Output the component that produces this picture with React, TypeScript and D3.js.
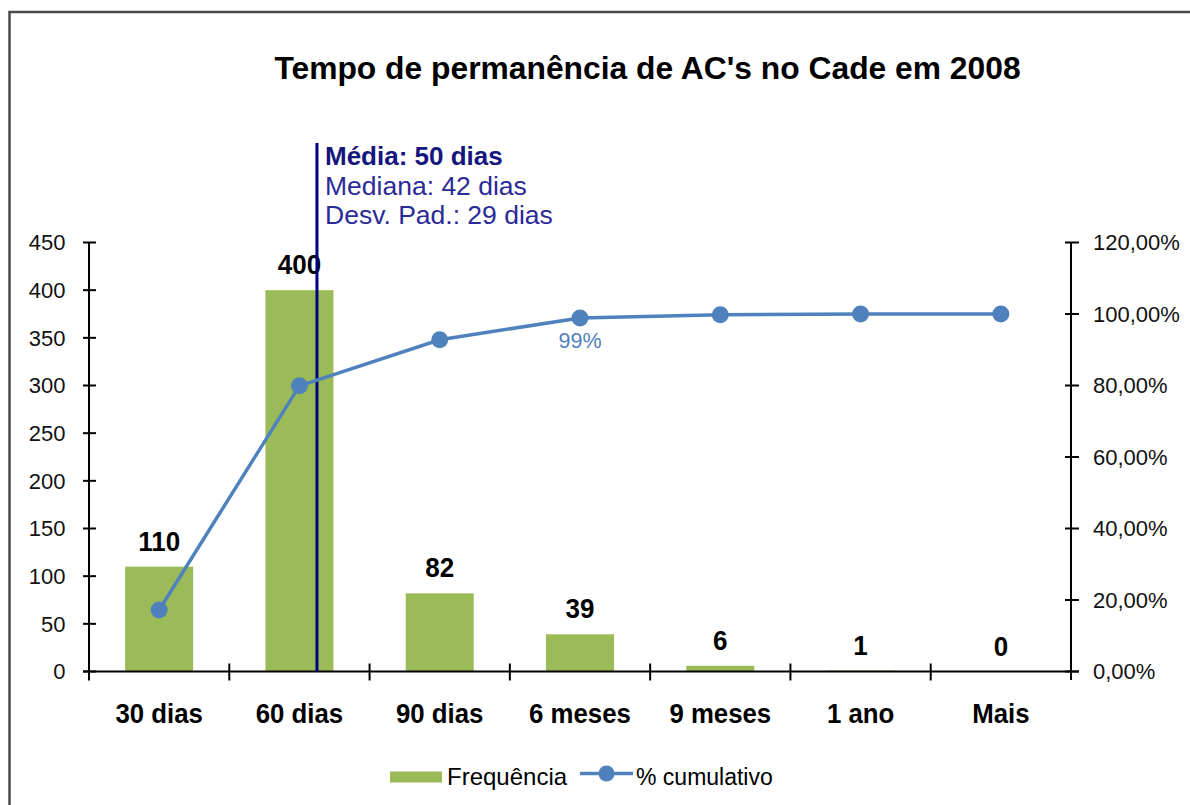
import React from "react";
import * as d3 from "d3";

const categories = ["30 dias", "60 dias", "90 dias", "6 meses", "9 meses", "1 ano", "Mais"];
const frequency = [110, 400, 82, 39, 6, 1, 0];
const cumulative = [0.172, 0.799, 0.928, 0.989, 0.998, 1.0, 1.0];
const leftTicks = [0, 50, 100, 150, 200, 250, 300, 350, 400, 450];
const rightTicks = [0, 0.2, 0.4, 0.6, 0.8, 1.0, 1.2];
const statsLines = ["Média: 50 dias", "Mediana: 42 dias", "Desv. Pad.: 29 dias"];
const title = "Tempo de permanência de AC's no Cade em 2008";
const legendLabels = ["Frequência", "% cumulativo"];
const highlightLabel = { index: 3, text: "99%" };

const W = 1190;
const H = 805;
const FONT = "'Liberation Sans', Arial, sans-serif";
const GREEN = "#9BBB59";
const BLUE = "#4F81BD";
const NAVY = "#000080";

export default function App() {
  const left = 89;
  const right = 1071;
  const top = 242.5;
  const bottom = 671.5;

  const x = d3.scaleBand<string>().domain(categories).range([left, right]).padding(0);
  const bw = x.bandwidth();
  const barW = bw * 0.485;
  const y = d3.scaleLinear().domain([0, 450]).range([bottom, top]);
  const y2 = d3.scaleLinear().domain([0, 1.2]).range([bottom, top]);
  const pct = (v: number) => d3.format(".2f")(v * 100).replace(".", ",") + "%";
  const cx = (c: string) => (x(c) as number) + bw / 2;

  const line = d3
    .line<number>()
    .x((_, i) => cx(categories[i]))
    .y((d) => y2(d));

  const meanX = (x("60 dias") as number) + bw * 0.625;
  const tr = (px: number, py: number, sy = 1.1) => `translate(${px},${py}) scale(1,${sy})`;

  return (
    <svg
      width={W}
      height={H}
      style={{ position: "absolute", left: 0, top: 0, background: "#fff" }}
      fontFamily={FONT}
    >
      <rect x={9.5} y={12} width={1250} height={850} fill="#fff" stroke="#4a4a4a" strokeWidth={2.5} />

      <text x={647.5} y={78.5} textAnchor="middle" fontSize={31.8} fontWeight="bold" fill="#000">
        {title}
      </text>

      {/* bars */}
      {frequency.map((v, i) => (
        <rect
          key={"b" + i}
          x={cx(categories[i]) - barW / 2}
          y={y(v)}
          width={barW}
          height={bottom - y(v)}
          fill={GREEN}
        />
      ))}
      {frequency.map((v, i) => (
        <text
          key={"bl" + i}
          transform={tr(cx(categories[i]), y(v) - 16, 1.03)}
          textAnchor="middle"
          fontSize={26}
          fontWeight="bold"
          fill="#000"
        >
          {v}
        </text>
      ))}

      {/* left axis */}
      <line x1={left} x2={left} y1={top} y2={680} stroke="#000" strokeWidth={2} />
      {leftTicks.map((t) => (
        <g key={"lt" + t}>
          <line x1={left - 6} x2={left + 7} y1={y(t)} y2={y(t)} stroke="#000" strokeWidth={2} />
          <text x={65.5} y={y(t)} dy="0.36em" textAnchor="end" fontSize={22} fill="#111">
            {t}
          </text>
        </g>
      ))}

      {/* right axis */}
      <line x1={right} x2={right} y1={top} y2={680} stroke="#000" strokeWidth={2} />
      {rightTicks.map((t) => (
        <g key={"rt" + t}>
          <line x1={right - 6} x2={right + 8} y1={y2(t)} y2={y2(t)} stroke="#000" strokeWidth={2} />
          <text x={1093} y={y2(t)} dy="0.36em" textAnchor="start" fontSize={22} fill="#111">
            {pct(t)}
          </text>
        </g>
      ))}

      {/* x axis */}
      <line x1={left - 6} x2={right + 8} y1={bottom} y2={bottom} stroke="#000" strokeWidth={2} />
      {categories.map((c, i) => (
        <line
          key={"xt" + i}
          x1={x(c) as number}
          x2={x(c) as number}
          y1={bottom - 8}
          y2={bottom + 9}
          stroke="#000"
          strokeWidth={2}
        />
      ))}
      {categories.map((c, i) => (
        <text
          key={"xl" + i}
          transform={tr(cx(c), 722.5, 1.1)}
          textAnchor="middle"
          fontSize={25.8}
          fontWeight="bold"
          fill="#000"
        >
          {c}
        </text>
      ))}

      {/* mean line */}
      <line x1={meanX} x2={meanX} y1={143} y2={bottom} stroke={NAVY} strokeWidth={3} />
      {statsLines.map((s, i) => (
        <text
          key={"st" + i}
          x={325}
          y={165 + i * 29.5}
          fontSize={i === 0 ? 26 : 26.5}
          fontWeight={i === 0 ? "bold" : "normal"}
          fill={i === 0 ? "#16167f" : "#2a2a98"}
        >
          {s}
        </text>
      ))}

      {/* cumulative line */}
      <path d={line(cumulative) || ""} fill="none" stroke={BLUE} strokeWidth={3.5} />
      {cumulative.map((v, i) => (
        <circle key={"p" + i} cx={cx(categories[i])} cy={y2(v)} r={8.5} fill={BLUE} />
      ))}
      <text
        x={cx(categories[highlightLabel.index])}
        y={y2(cumulative[highlightLabel.index]) + 30}
        textAnchor="middle"
        fontSize={21.5}
        fill={BLUE}
      >
        {highlightLabel.text}
      </text>

      {/* legend */}
      <rect x={390} y={771.5} width={52} height={11} fill={GREEN} />
      <text x={447} y={785} fontSize={24} fill="#000">
        {legendLabels[0]}
      </text>
      <line x1={580} x2={633} y1={773.5} y2={773.5} stroke={BLUE} strokeWidth={3.5} />
      <circle cx={606.5} cy={773.5} r={8} fill={BLUE} />
      <text x={636} y={785} fontSize={23} fill="#000">
        {legendLabels[1]}
      </text>
    </svg>
  );
}
